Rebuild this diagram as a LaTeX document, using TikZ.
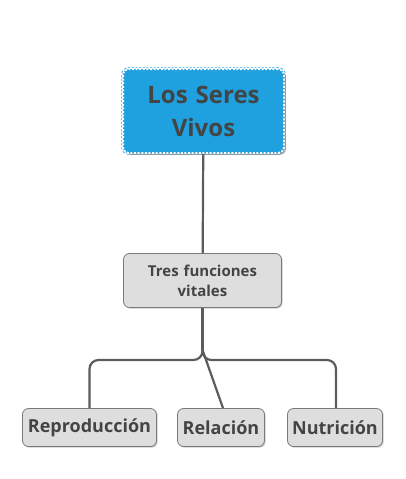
\documentclass[tikz,border=0pt]{standalone}
\usepackage{fontspec}
\setmainfont{Open Sans}
\usetikzlibrary{shadows}
\definecolor{boxblue}{HTML}{1FA0DF}
\definecolor{boxgray}{HTML}{DEDEDE}
\definecolor{edgegray}{HTML}{7A7A7A}
\definecolor{linegray}{HTML}{5C5C5C}
\definecolor{txtgray}{HTML}{444444}
\tikzset{
topbox/.style={rectangle,rounded corners=6pt,fill=boxblue,
  preaction={draw=boxblue,line width=3.5pt},
  draw=white,line width=2pt,dash pattern=on 2pt off 1.6pt,
  drop shadow={shadow xshift=1.8pt,shadow yshift=-1.8pt,opacity=0.7},
  text=txtgray,font=\bfseries\fontsize{24}{30}\selectfont,align=center},
subbox/.style={rectangle,rounded corners=6pt,fill=boxgray,draw=edgegray,line width=0.8pt,
  drop shadow={shadow xshift=1.2pt,shadow yshift=-1.2pt,opacity=0.4},
  text=txtgray,font=\bfseries,align=center,inner sep=0pt},
link/.style={draw=linegray,line width=2.2pt}
}
\begin{document}
\begin{tikzpicture}[x=1pt,y=-1pt]
\useasboundingbox (0,0) rectangle (405,479);

\node[topbox,minimum width=161pt,minimum height=84pt,text width=150pt](seres) at (203.5,111){Los Seres\\[3pt]Vivos};

\node[subbox,minimum width=158pt,minimum height=54pt,text width=150pt,
font=\bfseries\fontsize{15}{20}\selectfont](tres) at (202.5,280.5){Tres funciones\\vitales};

\node[subbox,minimum width=134pt,minimum height=38pt,
font=\bfseries\fontsize{18}{20}\selectfont](repro) at (89.5,427.5){Reproducción};
\node[subbox,minimum width=87pt,minimum height=38pt,
font=\bfseries\fontsize{18}{20}\selectfont](rel) at (221,427.5){Relación};
\node[subbox,minimum width=95pt,minimum height=38pt,
font=\bfseries\fontsize{18}{20}\selectfont](nutri) at (335,427.5){Nutrición};

\coordinate (split) at (202.5,350);
\coordinate (lbend) at (89.5,360);
\coordinate (rbend) at (336,360);

\draw[link] (seres) -- (tres);
\draw[link] (tres.south) -- (split);
\draw[link,rounded corners=9pt] (split) |- (lbend) -- (repro.north);
\draw[link,rounded corners=9pt] (split) |- (rbend) -- ([xshift=1pt]nutri.north);
\draw[link] (split) -- ([xshift=2pt]rel.north);
\end{tikzpicture}
\end{document}
